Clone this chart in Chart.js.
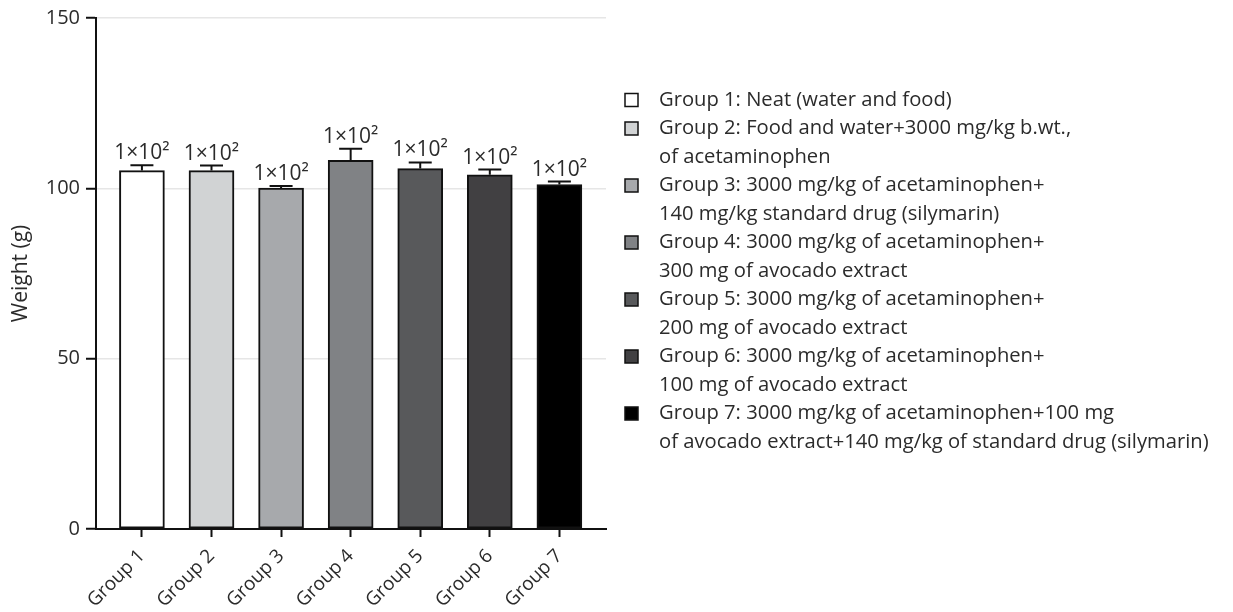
<!DOCTYPE html>
<html lang="en">
<head>
  <meta charset="UTF-8" />
  <title>Body weight by group</title>
  <script src="https://cdn.jsdelivr.net/npm/chart.js"></script>
  <style>
    html, body { margin: 0; padding: 0; background: #fff; }
    #wrap { width: 1233px; height: 612px; position: relative; }
  </style>
</head>
<body>
<div id="wrap"><canvas id="weightChart"></canvas></div>

<script>
const groups = ['Group 1', 'Group 2', 'Group 3', 'Group 4', 'Group 5', 'Group 6', 'Group 7'];
const meanWeight = [105.2, 105.2, 100.1, 108.2, 105.8, 104.0, 101.1];
const errWeight = [1.6, 1.5, 0.6, 3.4, 1.8, 1.5, 0.9];
const barColors = ['#ffffff', '#d1d3d4', '#a7a9ac', '#808285', '#58595b', '#414042', '#000000'];
const legendText = [
  ['Group 1: Neat (water and food)'],
  ['Group 2: Food and water+3000 mg/kg b.wt.,', 'of acetaminophen'],
  ['Group 3: 3000 mg/kg of acetaminophen+', '140 mg/kg standard drug (silymarin)'],
  ['Group 4: 3000 mg/kg of acetaminophen+', '300 mg of avocado extract'],
  ['Group 5: 3000 mg/kg of acetaminophen+', '200 mg of avocado extract'],
  ['Group 6: 3000 mg/kg of acetaminophen+', '100 mg of avocado extract'],
  ['Group 7: 3000 mg/kg of acetaminophen+100 mg', 'of avocado extract+140 mg/kg of standard drug (silymarin)']
];
const yTicks = [0, 50, 100, 150];

const FONT = "'Open Sans', 'Noto Sans', sans-serif";
const TEXT = '#2b2b2b';

// 105 -> "1×10²"
function sciLabel(v) {
  const sup = { '0': '⁰', '1': '¹', '2': '²', '3': '³', '4': '⁴', '5': '⁵', '6': '⁶', '7': '⁷', '8': '⁸', '9': '⁹' };
  const e = Math.floor(Math.log10(v));
  const m = Math.round(v / Math.pow(10, e));
  return m + '×10' + String(e).split('').map(c => sup[c]).join('');
}

// upper error bars plus the value label above each cap
const errorBars = {
  id: 'errorBars',
  afterDatasetsDraw(chart) {
    const ctx = chart.ctx;
    const y = chart.scales.y;
    const meta = chart.getDatasetMeta(0);
    ctx.save();
    ctx.strokeStyle = '#111';
    ctx.lineWidth = 2;
    meta.data.forEach((bar, i) => {
      const top = y.getPixelForValue(meanWeight[i] + errWeight[i]);
      ctx.beginPath();
      ctx.moveTo(bar.x, bar.y);
      ctx.lineTo(bar.x, top);
      ctx.moveTo(bar.x - 11.5, top);
      ctx.lineTo(bar.x + 11.5, top);
      ctx.stroke();
      ctx.fillStyle = TEXT;
      ctx.font = '21px ' + FONT;
      ctx.textAlign = 'center';
      ctx.textBaseline = 'alphabetic';
      ctx.fillText(sciLabel(meanWeight[i]), bar.x, top - 6);
    });
    ctx.restore();
  }
};

// legend on the right, boxes with wrapped descriptions
const sideLegend = {
  id: 'sideLegend',
  afterDraw(chart) {
    const ctx = chart.ctx;
    const boxX = 625, textX = 659, lineH = 28.5;
    let lineY = 100;
    ctx.save();
    ctx.font = '20.2px ' + FONT;
    ctx.textBaseline = 'middle';
    ctx.textAlign = 'left';
    legendText.forEach((lines, i) => {
      ctx.fillStyle = barColors[i];
      ctx.fillRect(boxX, lineY - 6.5, 13, 13);
      ctx.strokeStyle = '#111';
      ctx.lineWidth = 1.5;
      ctx.strokeRect(boxX, lineY - 6.5, 13, 13);
      ctx.fillStyle = TEXT;
      lines.forEach(t => {
        ctx.fillText(t, textX, lineY);
        lineY += lineH;
      });
    });
    ctx.restore();
  }
};

new Chart(document.getElementById('weightChart'), {
  type: 'bar',
  data: {
    datasets: [{
      data: groups.map((g, i) => ({ x: i, y: meanWeight[i] })),
      backgroundColor: barColors,
      borderColor: '#111',
      borderWidth: 2,
      borderSkipped: false,
      barThickness: 45
    }]
  },
  options: {
    responsive: true,
    maintainAspectRatio: false,
    animation: false,
    layout: { padding: { left: 0, right: 627, top: 17, bottom: 0 } },
    plugins: { legend: { display: false }, tooltip: { enabled: false } },
    scales: {
      x: {
        type: 'linear',
        min: -0.66,
        max: 6.67,
        offset: false,
        grid: { offset: false, drawOnChartArea: false, tickLength: 8, tickColor: '#111', tickWidth: 2 },
        border: { color: '#111', width: 2 },
        ticks: {
          stepSize: 1,
          includeBounds: false,
          autoSkip: false,
          minRotation: 45,
          maxRotation: 45,
          padding: 8,
          color: TEXT,
          font: { family: FONT, size: 19 },
          callback: v => groups[v]
        },
        afterFit: s => { s.height = 83; }
      },
      y: {
        min: 0,
        max: 150,
        grid: { color: '#e6e6e6', lineWidth: 1.5, tickLength: 10, tickColor: '#111', tickWidth: 2 },
        border: { color: '#111', width: 2 },
        ticks: {
          stepSize: 50,
          padding: 6,
          color: TEXT,
          font: { family: FONT, size: 20 },
          callback: v => yTicks.includes(v) ? v : ''
        },
        title: {
          display: true,
          text: 'Weight (g)',
          color: TEXT,
          font: { family: FONT, size: 21 },
          padding: { top: 8, bottom: 0 }
        },
        afterFit: s => { s.width = 96; }
      }
    }
  },
  plugins: [errorBars, sideLegend]
});
</script>
</body>
</html>
